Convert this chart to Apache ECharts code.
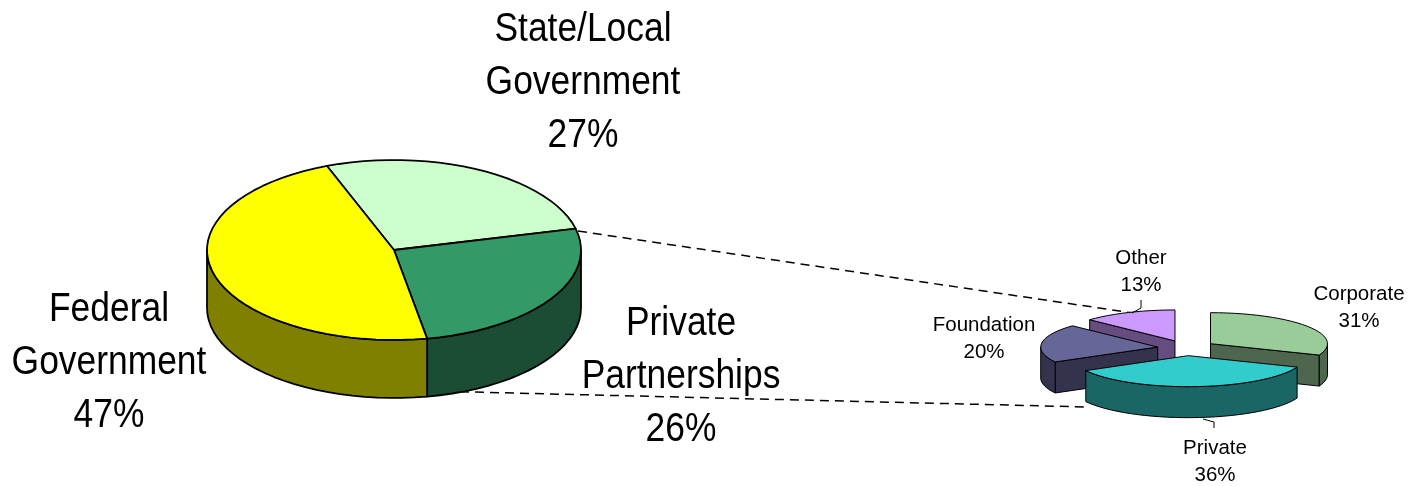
<!DOCTYPE html>
<html>
<head>
<meta charset="utf-8">
<style>
  html, body { margin: 0; padding: 0; background: #fff; }
  #chart { width: 1418px; height: 486px; }
</style>
<script src="https://cdn.jsdelivr.net/npm/echarts@6/dist/echarts.min.js"></script>
</head>
<body>
<div id="chart"></div>
<script>
// funding sources, main pie
var mainNames = ["State/Local\nGovernment", "Private\nPartnerships", "Federal\nGovernment"];
var mainValues = [27, 26, 47];
var mainTop = ["#CCFFCC", "#339966", "#FFFF00"];
var mainSide = ["#668066", "#1A4D33", "#808000"];

// breakdown of private partnerships, small pie
var subNames = ["Corporate", "Private", "Foundation", "Other"];
var subValues = [31, 36, 20, 13];
var subTop = ["#99CC99", "#33CCCC", "#666699", "#CC99FF"];
var subSide = ["#4D664D", "#1A6666", "#33334D", "#664D80"];
var subDrawOrder = [3, 0, 2, 1];

// layout only
var mainPie = { cx: 394, cy: 250, rx: 187, ry: 90, depth: 58, start: -21, explode: 0, line: 1.8 };
var subPie = { cx: 1186.5, cy: 348, rx: 117, ry: 31, depth: 31, start: 0, explode: 29, line: 1 };
var mainLabelPos = [[583, 83], [681, 377], [109, 363]];
var subLabelPos = [[1359, 308], [1215, 462], [984, 339], [1141, 272]];

function point(pie, ox, oy, deg, down) {
  var r = deg * Math.PI / 180;
  return [ox + pie.rx * Math.sin(r), oy - pie.ry * Math.cos(r) + (down || 0)];
}

function arc(pie, ox, oy, from, to, down) {
  var pts = [];
  var n = Math.max(2, Math.ceil(Math.abs(to - from) / 4));
  for (var i = 0; i <= n; i++) {
    pts.push(point(pie, ox, oy, from + (to - from) * i / n, down));
  }
  return pts;
}

// one custom series per pie, each item is [startAngle, endAngle] plus its colours
function pieSeries(pie, values, tops, sides, order) {
  var total = values.reduce(function (s, v) { return s + v; }, 0);
  var acc = pie.start;
  var slices = values.map(function (v, i) {
    var sweep = echarts.number.linearMap(v, [0, total], [0, 360]);
    var item = { value: [acc, acc + sweep], top: tops[i], side: sides[i] };
    acc += sweep;
    return item;
  });
  var data = order.map(function (i) { return slices[i]; });

  return {
    type: "custom",
    coordinateSystem: "none",
    silent: true,
    animation: false,
    z: 5,
    data: data,
    renderItem: function (params, api) {
      var a = api.value(0), b = api.value(1);
      var item = data[params.dataIndex];
      var mid = (a + b) / 2 * Math.PI / 180;
      var ox = pie.cx + pie.explode * Math.sin(mid);
      var oy = pie.cy - pie.explode * (pie.ry / pie.rx) * Math.cos(mid);
      var children = [];

      function face(points, fill) {
        children.push({
          type: "polygon",
          shape: { points: points },
          style: { fill: fill, stroke: "#000", lineWidth: pie.line, lineJoin: "round" }
        });
      }

      // radial walls only show when the slice is pulled out
      if (pie.explode > 0) {
        [a, b].forEach(function (deg, k) {
          var s = Math.sin(deg * Math.PI / 180);
          if ((k === 0 && s < -0.001) || (k === 1 && s > 0.001)) {
            var p = point(pie, ox, oy, deg);
            var p2 = point(pie, ox, oy, deg, pie.depth);
            face([[ox, oy], p, p2, [ox, oy + pie.depth]], item.side);
          }
        });
      }

      // outer wall, front half of the ellipse
      var wallFrom = Math.max(a, 90), wallTo = Math.min(b, 270);
      if (wallTo > wallFrom) {
        var upper = arc(pie, ox, oy, wallFrom, wallTo);
        var lower = arc(pie, ox, oy, wallTo, wallFrom, pie.depth);
        face(upper.concat(lower), item.side);
      }

      face([[ox, oy]].concat(arc(pie, ox, oy, a, b)), item.top);
      return { type: "group", children: children };
    }
  };
}

function labelText(names, values, positions, size, lineHeight, squeeze) {
  return names.map(function (name, i) {
    return {
      type: "text",
      x: positions[i][0],
      y: positions[i][1],
      scaleX: squeeze,
      z: 10,
      silent: true,
      style: {
        text: name + "\n" + values[i] + "%",
        fill: "#000",
        font: size + 'px "Liberation Sans", Arial, sans-serif',
        lineHeight: lineHeight,
        align: "center",
        verticalAlign: "middle"
      }
    };
  });
}

function connector(points, dashed) {
  return {
    type: "polyline",
    z: dashed ? 1 : 10,
    silent: true,
    shape: { points: points },
    style: {
      fill: null,
      stroke: "#000",
      lineWidth: dashed ? 1.5 : 1,
      lineDash: dashed ? [9, 6] : null
    }
  };
}

var chart = echarts.init(document.getElementById("chart"), null, { renderer: "canvas" });
chart.setOption({
  backgroundColor: "#fff",
  animation: false,
  graphic: {
    elements: [
      connector([[578, 231], [1133, 313]], true),
      connector([[430, 391], [1088, 407]], true),
      connector([[1141, 300], [1141, 308], [1132, 313]], false),
      connector([[1214, 428], [1214, 422], [1203, 419]], false)
    ].concat(
      labelText(mainNames, mainValues, mainLabelPos, 40, 53, 0.885),
      labelText(subNames, subValues, subLabelPos, 20.5, 27, 1)
    )
  },
  series: [
    pieSeries(mainPie, mainValues, mainTop, mainSide, [0, 1, 2]),
    pieSeries(subPie, subValues, subTop, subSide, subDrawOrder)
  ]
});
window.addEventListener("resize", function () {
  chart.resize();
});
</script>
</body>
</html>
